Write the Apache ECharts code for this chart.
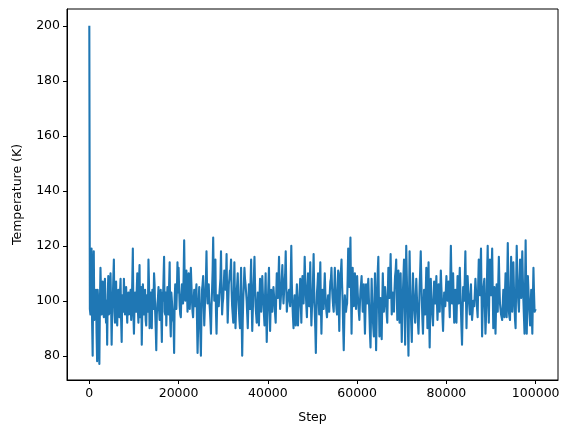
<!DOCTYPE html>
<html>
<head>
<meta charset="utf-8">
<script src="https://cdn.jsdelivr.net/npm/echarts@6/dist/echarts.min.js"></script>
<style>
html,body{margin:0;padding:0;background:#fff;}
#chart{width:575px;height:432px;}
</style>
</head>
<body>
<div id="chart"></div>
<script>
// Recorded every 250 steps (0..100000), plus readings half-way between them
const stepInterval = 250;
// Temperature (K) at steps 0, 250, 500, ... 100000 (one row per 5000 steps)
const temperatureAtStep = [
  200,95,119,80,118,96,104,78,100,77,112,95,107,94,108,92,84,109,96,110,
  84,100,115,92,107,91,104,94,108,85,101,108,95,105,92,103,96,104,98,119,
  88,103,96,110,92,113,99,84,106,95,104,91,100,115,90,103,90,101,110,96,
  82,99,105,93,104,85,100,116,95,91,105,95,114,87,100,93,81,106,97,114,
  112,98,94,106,99,122,100,111,96,110,97,112,100,94,104,98,106,81,100,96,
  80,104,109,91,103,118,99,106,97,88,104,123,100,115,88,102,98,105,118,95,
  101,111,104,117,92,106,111,115,98,92,114,90,103,110,97,90,112,80,101,112,
  106,100,90,106,97,115,89,104,116,98,92,103,91,108,96,109,99,91,110,85,
  100,112,89,104,96,105,99,92,110,101,116,97,104,113,99,107,118,96,102,104,
  98,120,99,90,102,91,106,91,100,108,92,109,99,116,103,94,110,98,114,91,
  100,117,96,81,103,110,95,114,88,104,97,110,99,94,102,96,107,112,101,96,
  112,100,95,111,89,110,115,100,82,102,96,99,119,105,123,88,112,98,110,97,
  109,99,93,104,109,96,106,88,106,99,108,95,83,108,94,87,110,82,104,116,
  87,101,86,110,96,105,99,92,112,101,117,95,103,96,109,115,93,111,92,110,
  85,103,115,84,120,100,80,118,97,85,110,99,92,108,97,88,105,118,100,88,
  104,95,112,90,114,83,108,97,91,107,99,109,93,106,96,111,100,89,103,98,
  109,100,107,94,120,99,110,92,104,92,109,99,112,97,84,105,100,118,90,109,
  101,95,106,93,100,98,108,101,94,115,102,119,87,104,108,88,100,120,92,115,
  102,119,90,105,88,106,96,116,99,95,93,104,94,110,94,121,96,93,116,96,
  114,98,90,120,103,96,115,101,118,100,88,122,88,109,99,91,104,88,112,96,
  97
];
// Temperature (K) at steps 125, 375, 625, ... 99875
const temperatureHalfStep = [
  97,105,92,110,93,101,88,104,90,99,103,100,98,104,97,100,102,95,103,99,
  97,108,96,102,95,100,98,103,93,102,96,101,99,97,101,95,102,93,107,95,
  98,100,104,97,106,94,105,97,101,98,93,102,96,106,99,95,104,97,106,90,
  95,101,97,100,94,103,108,96,103,99,102,106,93,103,97,92,101,106,104,103,
  104,95,102,101,109,106,103,104,101,103,102,106,96,100,99,103,93,90,105,88,
  95,106,99,97,108,105,103,100,93,98,111,108,104,96,98,101,102,108,104,99,
  106,107,108,102,99,108,110,104,95,104,101,97,106,102,93,103,94,93,106,108,
  103,95,98,101,107,99,96,109,106,95,98,96,101,100,104,103,95,102,96,94,
  106,98,98,100,101,102,95,102,105,108,104,100,109,104,103,110,105,99,103,100,
  108,106,94,97,96,100,97,97,104,99,102,103,106,108,98,104,103,105,100,97,
  108,104,90,94,106,101,106,99,98,101,104,103,96,99,98,103,108,105,98,104,
  105,97,104,99,101,111,106,90,93,98,98,108,110,113,104,102,104,103,103,104,
  103,96,99,106,102,101,96,97,102,104,101,88,96,100,90,100,95,93,111,100,
  95,93,99,102,100,102,95,103,106,108,105,98,99,104,111,103,103,100,101,96,
  95,109,99,103,109,90,100,106,91,99,104,95,101,102,92,96,111,108,93,97,
  100,104,100,103,95,97,102,94,100,102,104,100,99,100,104,105,94,97,100,104,
  104,104,100,108,108,104,100,98,97,101,103,106,104,90,95,102,109,102,100,104,
  98,101,98,96,99,103,104,97,106,107,111,102,97,106,97,94,111,104,104,107,
  110,104,98,96,98,100,107,106,97,94,99,98,103,101,108,107,94,105,105,106,
  105,93,106,110,99,106,107,110,108,94,106,104,99,104,95,98,95,101,103,96
];
const xTicks = [0, 20000, 40000, 60000, 80000, 100000];
const yTicks = [80, 100, 120, 140, 160, 180, 200];

const seriesData = [];
temperatureAtStep.forEach((v, i) => {
  seriesData.push([i * stepInterval, v]);
  if (i < temperatureHalfStep.length) {
    seriesData.push([i * stepInterval + stepInterval / 2, temperatureHalfStep[i]]);
  }
});

const chart = echarts.init(document.getElementById('chart'), null, {renderer: 'canvas'});
const font = 'DejaVu Sans';
chart.setOption({
  animation: false,
  backgroundColor: '#ffffff',
  grid: {
    left: 67, right: 17, top: 9, bottom: 52,
    show: true, borderColor: '#000', borderWidth: 1, backgroundColor: 'transparent'
  },
  xAxis: {
    type: 'value',
    min: -5000, max: 105000,
    name: 'Step', nameLocation: 'middle', nameGap: 31,
    nameTextStyle: {fontFamily: font, fontSize: 12.5, color: '#000'},
    axisLine: {show: true, onZero: false, lineStyle: {color: '#000', width: 1}},
    axisTick: {show: true, length: 4, lineStyle: {color: '#000'}, customValues: xTicks},
    axisLabel: {fontFamily: font, fontSize: 12.5, color: '#000', margin: 7, customValues: xTicks,
      formatter: v => String(Math.round(v))},
    splitLine: {show: false}
  },
  yAxis: {
    type: 'value',
    min: 71.2, max: 206.1,
    name: 'Temperature (K)', nameLocation: 'middle', nameGap: 43,
    nameTextStyle: {fontFamily: font, fontSize: 12.5, color: '#000'},
    axisLine: {show: true, onZero: false, lineStyle: {color: '#000', width: 1}},
    axisTick: {show: true, length: 4, lineStyle: {color: '#000'}, customValues: yTicks},
    axisLabel: {fontFamily: font, fontSize: 12.5, color: '#000', margin: 7, customValues: yTicks,
      formatter: v => String(Math.round(v))},
    splitLine: {show: false}
  },
  series: [{
    type: 'line',
    data: seriesData,
    showSymbol: false,
    symbol: 'none',
    sampling: null,
    lineStyle: {color: '#1f77b4', width: 2.1, join: 'round', cap: 'butt'},
    z: 2
  }]
});
</script>
</body>
</html>
